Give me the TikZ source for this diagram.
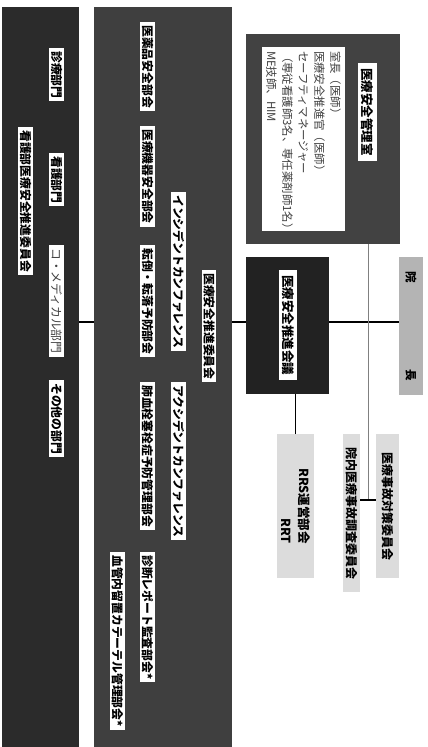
\documentclass[tikz,border=0pt]{standalone}
\usepackage{fontspec}
\setmainfont{Noto Sans CJK JP}
\usepackage{xcolor}
\usepackage{tikz}
\usetikzlibrary{positioning}
\definecolor{bumongray}{HTML}{2B2B2B}
\definecolor{iinkaigray}{HTML}{3F3F3F}
\definecolor{kanrigray}{HTML}{424242}
\definecolor{kaigigray}{HTML}{222222}
\definecolor{inchogray}{HTML}{B4B4B4}
\definecolor{palegray}{HTML}{DCDCDC}
\tikzset{
	basic/.style = {rectangle, inner sep=0pt, outer sep=0pt},
	column/.style = {basic, anchor=north west},
	tag/.style = {rectangle, fill=white, rotate=-90, anchor=west, inner xsep=3pt, inner ysep=1.5pt, font=\bfseries\fontsize{11.8}{12}\selectfont},
	plain tag/.style = {tag, font=\fontsize{11.8}{12}\selectfont, text=darkgray},
	big tag/.style = {tag, inner xsep=5pt, inner ysep=3pt, font=\bfseries\fontsize{12.5}{13}\selectfont},
	link/.style = {line width=1.8pt},
	thin link/.style = {line width=0.7pt, draw=gray}
}
\begin{document}
\begin{tikzpicture}[x=1pt, y=-1pt]
	\useasboundingbox (0,0) rectangle (428,747);

	% the two long columns on the left
	\node[column, fill=bumongray, minimum width=77pt, minimum height=740pt] (bumon) at (2,7) {};
	\node[column, fill=iinkaigray, minimum width=138pt, minimum height=740pt] (iinkai) at (94,7) {};
	% boxes on the right
	\node[column, fill=kanrigray, minimum width=154pt, minimum height=210pt] (kanri) at (246,34) {};
	\node[column, fill=kaigigray, minimum width=83pt, minimum height=137pt] (kaigi) at (246,257) {};
	\node[column, fill=inchogray, minimum width=24pt, minimum height=138pt] (incho) at (399,257) {};
	\node[column, fill=palegray, minimum width=37pt, minimum height=144pt] (rrs) at (277,434) {};
	\node[column, fill=palegray, minimum width=17pt, minimum height=158pt] (chosa) at (343,434) {};
	\node[column, fill=palegray, minimum width=23pt, minimum height=144pt] (taisaku) at (376,434) {};

	% departments
	\node[tag] (shinryo) at (56.5,48) {診療部門};
	\node[tag] (kango) at (56.5,153) {看護部門};
	\node[plain tag] (comedical) at (56.5,245) {コ・メディカル部門};
	\node[tag] (sonota) at (56.5,380) {その他の部門};
	\node[tag] (kangoiinkai) at (25.5,127) {看護部医療安全推進委員会};

	% committee and its sub-meetings
	\node[tag] (iyakuhin) at (147.5,22) {医薬品安全部会};
	\node[tag] (kiki) at (147.5,126) {医療機器安全部会};
	\node[tag] (tento) at (147.5,245) {転倒・転落予防部会};
	\node[tag] (haikessen) at (147.5,382) {肺血栓塞栓症予防管理部会};
	\node[tag] (report) at (147.5,552) {診断レポート監査部会*};
	\node[tag] (incident) at (178.5,192) {インシデントカンファレンス};
	\node[tag] (accident) at (178.5,382) {アクシデントカンファレンス};
	\node[tag] (suishiniinkai) at (209,270) {医療安全推進委員会};
	\node[tag] (catheter) at (117.5,552) {血管内留置カテーテル管理部会*};

	% management office
	\node[big tag] (kanrititle) at (367.5,63) {医療安全管理室};
	\node[basic, fill=white, rotate=-90, anchor=north west, text width=176pt, inner sep=4pt, minimum height=83pt, align=left, text=darkgray, font=\fontsize{11.4}{16}\selectfont] (staff) at (345,47)
		{室長（医師）\\医療安全推進官（医師）\\セーフティマネージャー\\（専従看護師3名、専任薬剤師1名）\\ME技師、HIM};

	% meeting, director and the pale boxes
	\node[big tag] (kaigititle) at (288,270) {医療安全推進会議};
	\node[rotate=-90, text width=110pt, font=\bfseries\fontsize{11.5}{12}\selectfont] (inchotext) at (incho.center) {院\hfill 長};
	\node[rotate=-90, align=right, font=\bfseries\fontsize{12.5}{18}\selectfont] (rrstext) at (rrs.center) {RRS運営部会\\RRT};
	\node[rotate=-90, inner sep=0pt, font=\bfseries\fontsize{12}{12}\selectfont] (chosatext) at (chosa.center) {院内医療事故調査委員会};
	\node[rotate=-90, font=\bfseries\fontsize{12}{12}\selectfont] (taisakutext) at (taisaku.center) {医療事故対策委員会};

	% connectors
	\coordinate (mid) at (0,322);
	\coordinate (tap) at (368,500);
	\draw[link] (bumon.east |- mid) -- (iinkai.west |- mid);
	\draw[link] (iinkai.east |- mid) -- (kaigi.west |- mid);
	\draw[link] (kaigi.east |- mid) -- (incho.west |- mid);
	\draw[link] (rrs.north) -- (rrs.north |- kaigi.south);
	\draw[thin link] (kanri.south -| tap) -- (tap);
	\draw[link] (chosa.east |- tap) -- (taisaku.west |- tap);
\end{tikzpicture}
\end{document}
